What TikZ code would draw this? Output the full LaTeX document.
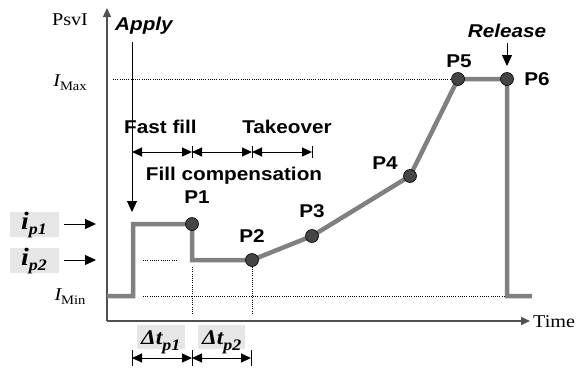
\documentclass[tikz,border=0pt]{standalone}
\usepackage{fontspec}
\usetikzlibrary{arrows.meta}
\newfontfamily\sanslbl[FakeStretch=1.12]{Liberation Sans}
\newfontfamily\seriflbl[FakeStretch=1.12]{Liberation Serif}
\definecolor{curvegray}{HTML}{808080}
\definecolor{ptfill}{HTML}{454545}
\definecolor{boxgray}{HTML}{E6E6E6}
\definecolor{axisgray}{HTML}{505050}
\tikzset{
  lbl/.style={font=\sanslbl\fontsize{18.5}{20}\selectfont\bfseries, inner sep=0pt, anchor=base},
  ilbl/.style={font=\sanslbl\fontsize{18.5}{20}\selectfont\bfseries\itshape, inner sep=0pt, anchor=base},
  axlbl/.style={font=\seriflbl\fontsize{18}{20}\selectfont, inner sep=0pt, anchor=base},
  axis/.style={draw=axisgray, line width=1.3pt, -{Triangle[length=9pt,width=8pt]}},
  curve/.style={draw=curvegray, line width=4.5pt, line join=miter, line cap=butt},
  pt/.style={circle, fill=ptfill, draw=black, line width=0.6pt, minimum size=13pt, inner sep=0pt},
  dotline/.style={draw=black, line width=0.6pt, dash pattern=on 0.8pt off 1.4pt},
  arr/.style={draw=black, line width=1pt, -{Triangle[length=11pt,width=10pt]}},
  dim/.style={draw=black, line width=1pt, {Triangle[length=10pt,width=9pt]}-{Triangle[length=10pt,width=9pt]}},
  tick/.style={draw=black, line width=0.8pt},
  gbox/.style={fill=boxgray, inner sep=0pt},
  symlbl/.style={font=\seriflbl\bfseries\itshape, inner sep=0pt},
}
\begin{document}
\begin{tikzpicture}[x=1pt, y=-1pt]
\useasboundingbox (0,0) rectangle (586,367);

% axes
\coordinate (O) at (107,321);
\coordinate (ytop) at (107,8);
\coordinate (xend) at (530,321);
\draw[axis] (O) -- (ytop);
\draw[axis] (O) -- (xend);
\node[axlbl] (psv) at (70,25) {PsvI};
\node[axlbl, anchor=base west] (time) at (533,327) {Time};
\node[axlbl] (imax) at (70,86) {\itshape I\upshape\raisebox{-4pt}{\fontsize{13}{13}\selectfont Max}};
\node[axlbl] (imin) at (70,300) {\itshape I\upshape\raisebox{-4pt}{\fontsize{13}{13}\selectfont Min}};

% characteristic points
\coordinate (P1c) at (192,224);
\coordinate (P2c) at (252,260);
\coordinate (P3c) at (312,236);
\coordinate (P4c) at (410,176);
\coordinate (P5c) at (458,79);
\coordinate (P6c) at (507,79);

% guide lines
\coordinate (gmax) at (113,79);
\coordinate (gmin) at (143,296);
\coordinate (gminE) at (507,296);
\coordinate (gp2a) at (143,260);
\coordinate (gp2b) at (178,260);
\coordinate (gv1a) at (192,267);
\coordinate (gv1b) at (192,315);
\coordinate (gv2b) at (252,315);
\draw[dotline] (gmax) -- (P5c);
\draw[dotline] (gmin) -- (gminE);
\draw[dotline] (gp2a) -- (gp2b);
\draw[dotline] (gv1a) -- (gv1b);
\draw[dotline] (P2c) -- (gv2b);

% current profile
\coordinate (c0) at (107,296);
\coordinate (c1) at (133,296);
\coordinate (c2) at (133,224);
\coordinate (c3) at (192,260);
\coordinate (c4) at (507,296);
\coordinate (c5) at (532,296);
\draw[curve] (c0) -- (c1) -- (c2) -- (P1c) -- (c3) -- (P2c) -- (P3c) -- (P4c) -- (P5c) -- (P6c) -- (c4) -- (c5);

\node[pt] (P1) at (P1c) {};
\node[pt] (P2) at (P2c) {};
\node[pt] (P3) at (P3c) {};
\node[pt] (P4) at (P4c) {};
\node[pt] (P5) at (P5c) {};
\node[pt] (P6) at (P6c) {};

\node[lbl] (lP1) at (197,203) {P1};
\node[lbl] (lP2) at (252,242) {P2};
\node[lbl] (lP3) at (312,217) {P3};
\node[lbl] (lP4) at (385,169) {P4};
\node[lbl] (lP5) at (459,67) {P5};
\node[lbl] (lP6) at (537,85) {P6};

% apply / release
\node[ilbl, anchor=base west] (apply) at (115,30) {Apply};
\coordinate (apTop) at (132,42);
\coordinate (apTip) at (132,212);
\draw[arr] (apTop) -- (apTip);
\node[ilbl] (release) at (507,37) {Release};
\coordinate (reTop) at (507,43);
\coordinate (reTip) at (507,66);
\draw[arr] (reTop) -- (reTip);

% phases
\node[lbl] (fast) at (160.5,133) {Fast fill};
\node[lbl] (take) at (287,133) {Takeover};
\node[lbl] (comp) at (234,180) {Fill compensation};
\coordinate (d0) at (132,152);
\coordinate (d1) at (192,152);
\coordinate (d2) at (252,152);
\coordinate (d3) at (312,152);
\draw[dim] (d0) -- (d1);
\draw[dim] (d1) -- (d2);
\draw[dim] (d2) -- (d3);
\foreach \x in {192,252,312} \draw[tick] (\x,146) -- (\x,158);

% current levels
\node[gbox, minimum width=49pt, minimum height=25pt] (ip1) at (34.5,224.5) {};
\node[gbox, minimum width=49pt, minimum height=25pt] (ip2) at (34.5,260.5) {};
\node[symlbl, anchor=base west] (tip1) at (21,229) {\fontsize{25}{25}\selectfont i\raisebox{-5pt}{\fontsize{16}{16}\selectfont p1}};
\node[symlbl, anchor=base west] (tip2) at (21,265) {\fontsize{25}{25}\selectfont i\raisebox{-5pt}{\fontsize{16}{16}\selectfont p2}};
\coordinate (a1s) at (64,224);
\coordinate (a1e) at (96,224);
\coordinate (a2s) at (64,260);
\coordinate (a2e) at (96,260);
\draw[arr] (a1s) -- (a1e);
\draw[arr] (a2s) -- (a2e);

% time intervals
\node[gbox, minimum width=48pt, minimum height=24pt] (dt1) at (161,336.5) {};
\node[gbox, minimum width=47pt, minimum height=24pt] (dt2) at (221.5,336.5) {};
\node[symlbl, anchor=base west] (tdt1) at (141,344) {\fontsize{21}{21}\selectfont Δt\raisebox{-6pt}{\fontsize{16}{16}\selectfont p1}};
\node[symlbl, anchor=base west] (tdt2) at (202,344) {\fontsize{21}{21}\selectfont Δt\raisebox{-6pt}{\fontsize{16}{16}\selectfont p2}};
\coordinate (e0) at (132,358);
\coordinate (e1) at (192,358);
\coordinate (e2) at (251,358);
\draw[dim] (e0) -- (e1);
\draw[dim] (e1) -- (e2);
\foreach \x in {132,192,251} \draw[tick] (\x,350) -- (\x,366);
\end{tikzpicture}
\end{document}
